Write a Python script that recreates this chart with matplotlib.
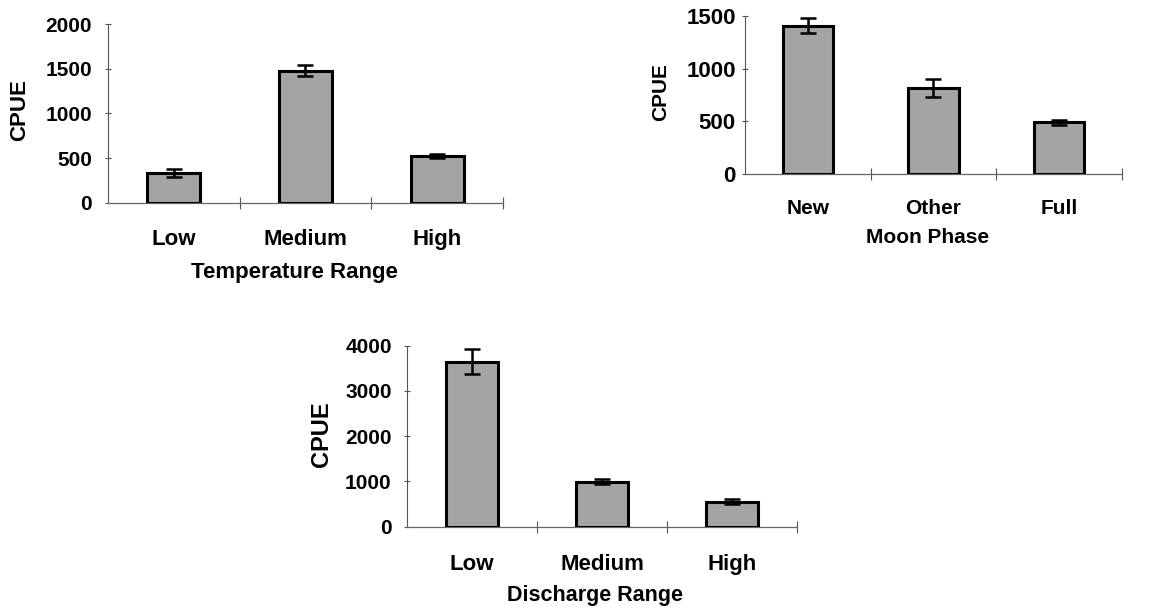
import numpy as np
import matplotlib.pyplot as plt

plt.rcParams['font.family'] = ['Liberation Sans', 'DejaVu Sans']
plt.rcParams['font.weight'] = 'bold'

# CPUE means and error bars for each factor
temp_cats = ['Low', 'Medium', 'High']
temp_cpue = [330, 1480, 525]
temp_err = [45, 65, 18]

moon_cats = ['New', 'Other', 'Full']
moon_cpue = [1410, 820, 490]
moon_err = [75, 85, 22]

flow_cats = ['Low', 'Medium', 'High']
flow_cpue = [3650, 990, 555]
flow_err = [270, 55, 55]


def bar_panel(fig, rect, cats, vals, errs, ymax, ystep, xlabel, xl_pos, yl_pos,
              tick_fs=15, cat_fs=16, lab_fs=16, ylab_fs=16, ypad=10, xpad=19):
    ax = fig.add_axes(rect)
    x = np.arange(len(cats))
    ax.bar(x, vals, width=0.4, color='#a4a4a4', edgecolor='black', linewidth=2.2,
           yerr=errs, capsize=5.5,
           error_kw=dict(elinewidth=1.8, capthick=1.8, ecolor='black'), zorder=3)
    ax.set_xlim(-0.5, len(cats) - 0.5)
    ax.set_ylim(0, ymax)
    ax.set_yticks(np.arange(0, ymax + 1, ystep))
    ax.tick_params(axis='y', direction='inout', length=5, width=0.8, color='#555555',
                   labelsize=tick_fs, pad=ypad)
    # category labels sit between the boundary ticks
    ax.set_xticks(x)
    ax.set_xticklabels(cats, fontsize=cat_fs, fontweight='bold')
    ax.tick_params(axis='x', which='major', length=0, pad=xpad)
    ax.set_xticks(x + 0.5, minor=True)
    ax.tick_params(axis='x', which='minor', direction='inout', length=9, width=0.8,
                   color='#555555')
    for lab in ax.get_yticklabels():
        lab.set_fontweight('bold')
    for side in ['top', 'right']:
        ax.spines[side].set_visible(False)
    ax.spines['left'].set_color('#555555')
    ax.spines['left'].set_linewidth(0.8)
    ax.spines['bottom'].set_color('#666666')
    ax.spines['bottom'].set_linewidth(0.9)
    ax.set_ylabel('CPUE', fontsize=ylab_fs, fontweight='bold')
    ax.yaxis.label.set_va('center')
    ax.yaxis.set_label_coords(*yl_pos)
    ax.set_xlabel(xlabel, fontsize=lab_fs, fontweight='bold')
    ax.xaxis.label.set_va('center')
    ax.xaxis.set_label_coords(*xl_pos)
    return ax


fig = plt.figure(figsize=(11.55, 6.14), dpi=100)

bar_panel(fig, [0.0935, 0.6694, 0.342, 0.2915], temp_cats, temp_cpue, temp_err,
          2000, 500, 'Temperature Range', (0.473, -0.39), (-0.223, 0.52), ypad=9)
bar_panel(fig, [0.645, 0.7166, 0.3264, 0.2573], moon_cats, moon_cpue, moon_err,
          1500, 500, 'Moon Phase', (0.485, -0.40), (-0.223, 0.516),
          tick_fs=16, cat_fs=15, lab_fs=15, ylab_fs=15, ypad=4, xpad=18)
bar_panel(fig, [0.3524, 0.1422, 0.3377, 0.2948], flow_cats, flow_cpue, flow_err,
          4000, 1000, 'Discharge Range', (0.482, -0.38), (-0.218, 0.512), ypad=8.5,
          lab_fs=15.5, ylab_fs=17, xpad=20)

fig.savefig('out.png', dpi=100)
